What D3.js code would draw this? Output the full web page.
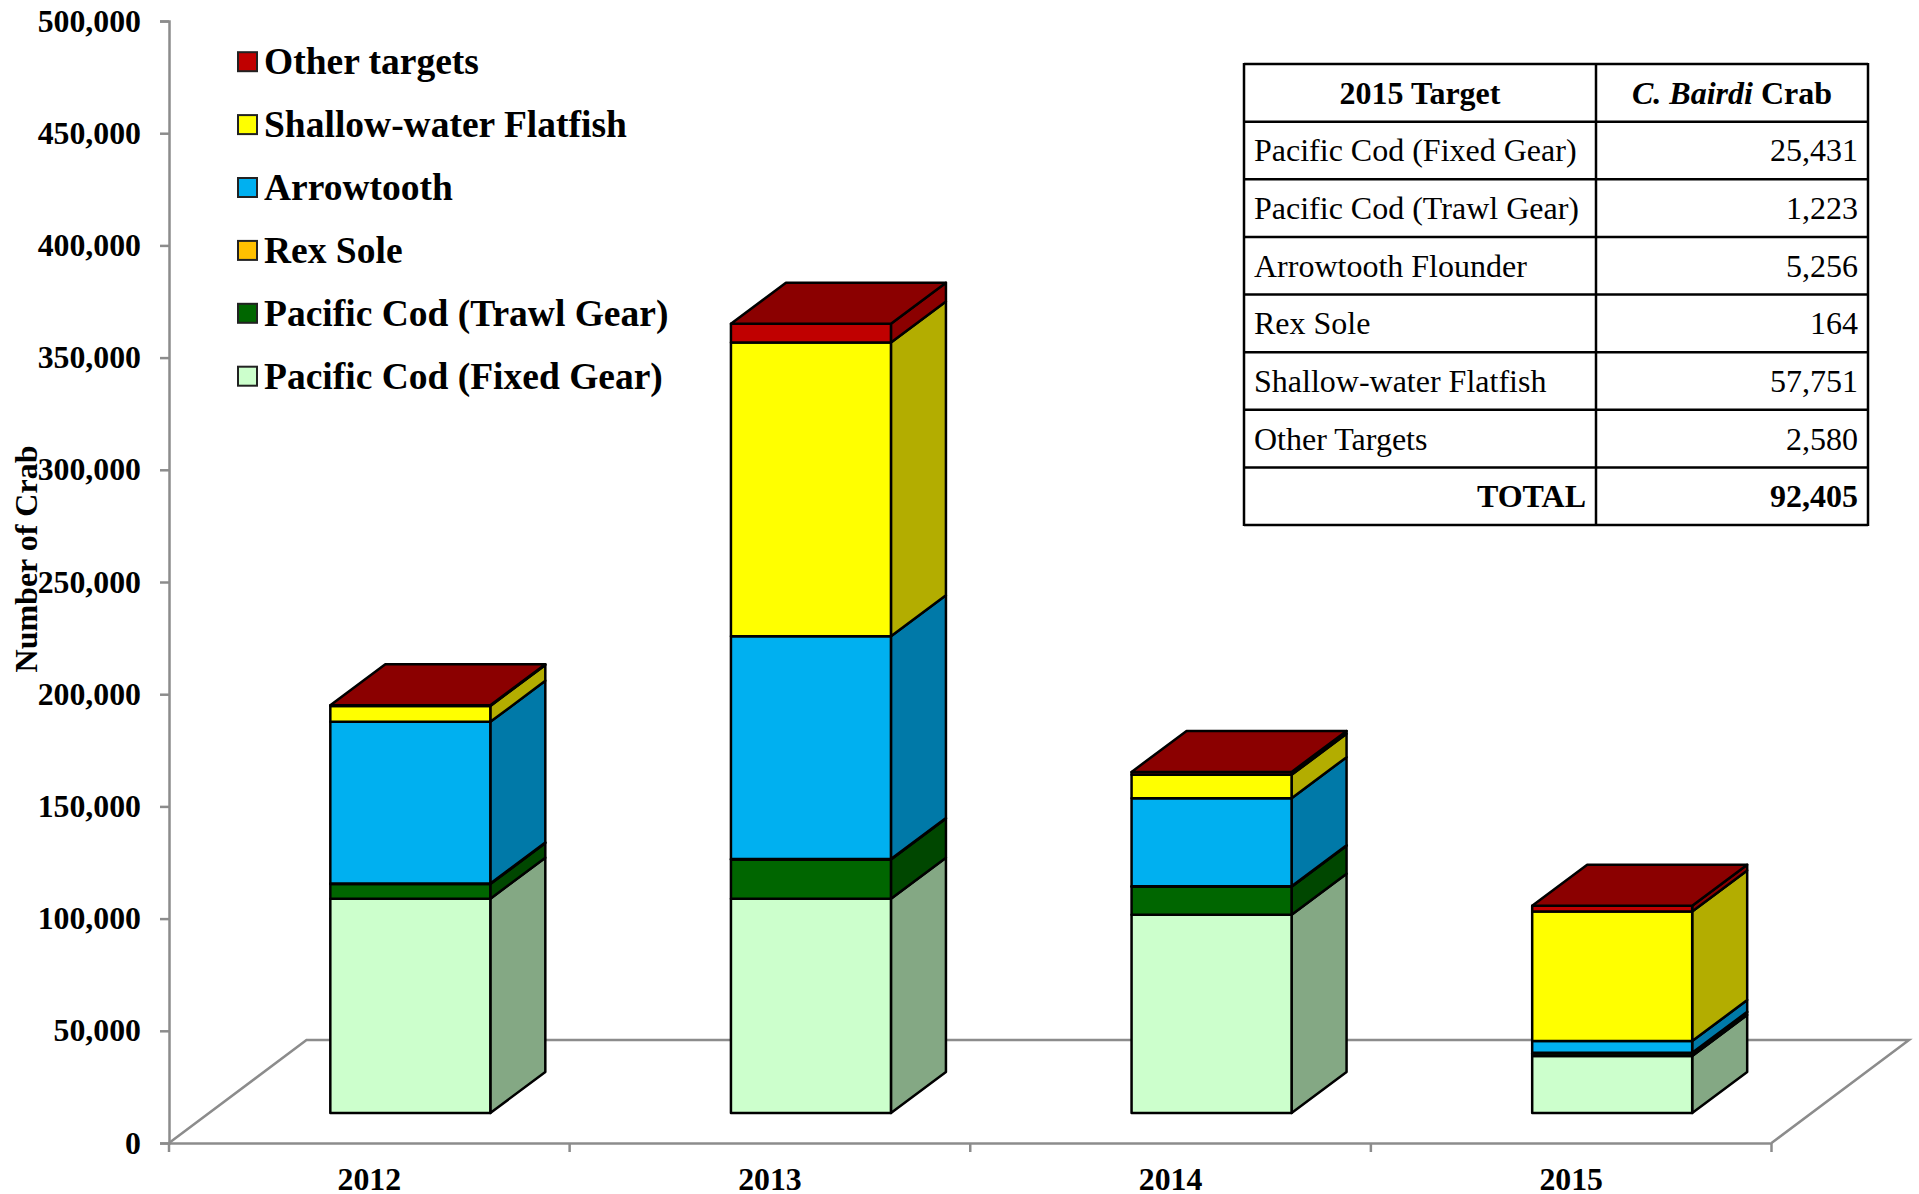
<!DOCTYPE html>
<html>
<head>
<meta charset="utf-8">
<script src="https://cdn.jsdelivr.net/npm/d3@7"></script>
<style>
  html, body { margin: 0; padding: 0; background: #fff; }
  svg { display: block; }
  text { font-family: "Liberation Serif", serif; fill: #000; }
</style>
</head>
<body>
<div id="chart-container"></div>
<script>
const years = ["2012", "2013", "2014", "2015"];
const fixedGear = [95500, 95500, 88300, 25431];
const trawlGear = [6500, 17500, 12500, 1223];
const arrowtooth = [72000, 99300, 39300, 5256];
const rexSole = [300, 200, 200, 164];
const shallowWater = [7100, 130900, 10400, 57751];
const otherTargets = [300, 8300, 1300, 2580];

const legendNames = ["Other targets", "Shallow-water Flatfish", "Arrowtooth", "Rex Sole", "Pacific Cod (Trawl Gear)", "Pacific Cod (Fixed Gear)"];
const legendColors = ["#c00000", "#ffff00", "#00b0f0", "#ffc000", "#006600", "#ccffcc"];

const tableHead = ["2015 Target", "Crab"];
const tableNames = ["Pacific Cod (Fixed Gear)", "Pacific Cod (Trawl Gear)", "Arrowtooth Flounder", "Rex Sole", "Shallow-water Flatfish", "Other Targets"];
const tableValues = ["25,431", "1,223", "5,256", "164", "57,751", "2,580"];
const tableTotal = "92,405";

const stackValues = [fixedGear, trawlGear, rexSole, arrowtooth, shallowWater, otherTargets];
const stackColors = ["#ccffcc", "#006600", "#ffc000", "#00b0f0", "#ffff00", "#c00000"];
const sideColors = ["#84a884", "#004700", "#b38600", "#0079a8", "#b3ad00", "#8b0000"];

const width = 1919;
const height = 1194;
const grey = "#8c8c8c";

const svg = d3
  .select("#chart-container")
  .append("svg")
  .attr("width", width)
  .attr("height", height);

const x = d3.scaleBand().domain(years).range([169, 1771.5]);
const y = d3.scaleLinear().domain([0, 500000]).range([1143, 21]);

// floor of the 3d plot
const floorDx = 137.5;
const floorDy = -103;
svg
  .append("path")
  .attr("fill", "none")
  .attr("stroke", grey)
  .attr("stroke-width", 2.5)
  .attr("d", d3.line()([
    [x.range()[0], y(0)],
    [x.range()[0] + floorDx, y(0) + floorDy],
    [x.range()[1] + floorDx, y(0) + floorDy],
    [x.range()[1], y(0)],
  ]));

// y axis
const yAxis = svg
  .append("g")
  .attr("transform", "translate(169,0)")
  .call(d3.axisLeft(y).tickValues(d3.range(0, 500001, 50000)).tickFormat(d3.format(",")).tickSize(9).tickPadding(19));
yAxis.selectAll("path, line").attr("stroke", grey).attr("stroke-width", 2.5);
yAxis.selectAll("text").style("font-family", "Liberation Serif").style("font-weight", "bold").style("font-size", "31.8px");

// x axis
const xAxis = svg
  .append("g")
  .attr("transform", `translate(0,${y(0)})`)
  .call(d3.axisBottom(x).tickSize(0).tickPadding(24));
xAxis.select("path").attr("stroke", grey).attr("stroke-width", 2.5);
xAxis.selectAll("text").style("font-family", "Liberation Serif").style("font-weight", "bold").style("font-size", "31.8px");
xAxis
  .selectAll(".edge")
  .data(d3.range(years.length + 1))
  .enter()
  .append("line")
  .attr("class", "edge")
  .attr("x1", (d) => x.range()[0] + d * x.step())
  .attr("x2", (d) => x.range()[0] + d * x.step())
  .attr("y2", 9)
  .attr("stroke", grey)
  .attr("stroke-width", 2.5);

// bars
const barWidth = 160;
const barShiftX = 41;
const barShiftY = -30;
const depthX = 55;
const depthY = -41;
const line = d3.line();

years.forEach(function (year, i) {
  const left = x(year) + (x.bandwidth() - barWidth) / 2 + barShiftX;
  const right = left + barWidth;
  let total = 0;
  const g = svg.append("g").attr("stroke", "#000").attr("stroke-width", 2.5).attr("stroke-linejoin", "round");

  stackValues.forEach(function (values, s) {
    const bottom = y(total) + barShiftY;
    total += values[i];
    const top = y(total) + barShiftY;
    // side face
    g.append("path")
      .attr("fill", sideColors[s])
      .attr("d", line([
        [right, bottom],
        [right + depthX, bottom + depthY],
        [right + depthX, top + depthY],
        [right, top],
      ]) + "Z");
    // front face
    g.append("rect")
      .attr("x", left)
      .attr("y", top)
      .attr("width", barWidth)
      .attr("height", bottom - top)
      .attr("fill", stackColors[s]);
    if (s === stackValues.length - 1) {
      // lid
      g.append("path")
        .attr("fill", sideColors[s])
        .attr("d", line([
          [left, top],
          [left + depthX, top + depthY],
          [right + depthX, top + depthY],
          [right, top],
        ]) + "Z");
    }
  });
});

// y title
svg
  .append("text")
  .attr("transform", "translate(37,559) rotate(-90)")
  .attr("text-anchor", "middle")
  .style("font-weight", "bold")
  .style("font-size", "32px")
  .text("Number of Crab");

// legend
const legend = svg
  .selectAll(".legend")
  .data(legendNames)
  .enter()
  .append("g")
  .attr("class", "legend")
  .attr("transform", (d, i) => `translate(238,${61.7 + i * 62.9})`);
legend
  .append("rect")
  .attr("y", -9.5)
  .attr("width", 19)
  .attr("height", 19)
  .attr("fill", (d, i) => legendColors[i])
  .attr("stroke", "#222")
  .attr("stroke-width", 2);
legend
  .append("text")
  .attr("x", 26)
  .attr("dy", "0.33em")
  .style("font-weight", "bold")
  .style("font-size", "37.5px")
  .text((d) => d);

// table
const tableLeft = 1244;
const tableMid = 1596;
const tableRight = 1868;
const fontSize = "32px";
const rowY = d3.scaleLinear().domain([0, 8]).range([64, 525]);
const table = svg.append("g");
table
  .selectAll(".h")
  .data(d3.range(9))
  .enter()
  .append("line")
  .attr("x1", tableLeft)
  .attr("x2", tableRight)
  .attr("y1", (d) => rowY(d))
  .attr("y2", (d) => rowY(d))
  .attr("stroke", "#000")
  .attr("stroke-width", 2.5);
table
  .selectAll(".v")
  .data([tableLeft, tableMid, tableRight])
  .enter()
  .append("line")
  .attr("x1", (d) => d)
  .attr("x2", (d) => d)
  .attr("y1", rowY(0) - 1)
  .attr("y2", rowY(8) + 1)
  .attr("stroke", "#000")
  .attr("stroke-width", 2.5);

const rowMid = (i) => rowY(i + 0.5) + 11;
table
  .append("text")
  .attr("x", (tableLeft + tableMid) / 2)
  .attr("y", rowMid(0))
  .attr("text-anchor", "middle")
  .style("font-weight", "bold")
  .style("font-size", fontSize)
  .text(tableHead[0]);
const headRight = table
  .append("text")
  .attr("x", (tableMid + tableRight) / 2)
  .attr("y", rowMid(0))
  .attr("text-anchor", "middle")
  .style("font-weight", "bold")
  .style("font-size", fontSize);
headRight.append("tspan").style("font-style", "italic").text("C. Bairdi ");
headRight.append("tspan").text(tableHead[1]);

tableNames.forEach(function (name, i) {
  table.append("text").attr("x", tableLeft + 10).attr("y", rowMid(i + 1)).style("font-size", fontSize).text(name);
  table
    .append("text")
    .attr("x", tableRight - 10)
    .attr("y", rowMid(i + 1))
    .attr("text-anchor", "end")
    .style("font-size", fontSize)
    .text(tableValues[i]);
});
table
  .append("text")
  .attr("x", tableMid - 10)
  .attr("y", rowMid(7))
  .attr("text-anchor", "end")
  .style("font-weight", "bold")
  .style("font-size", fontSize)
  .text("TOTAL");
table
  .append("text")
  .attr("x", tableRight - 10)
  .attr("y", rowMid(7))
  .attr("text-anchor", "end")
  .style("font-weight", "bold")
  .style("font-size", fontSize)
  .text(tableTotal);
</script>
</body>
</html>
